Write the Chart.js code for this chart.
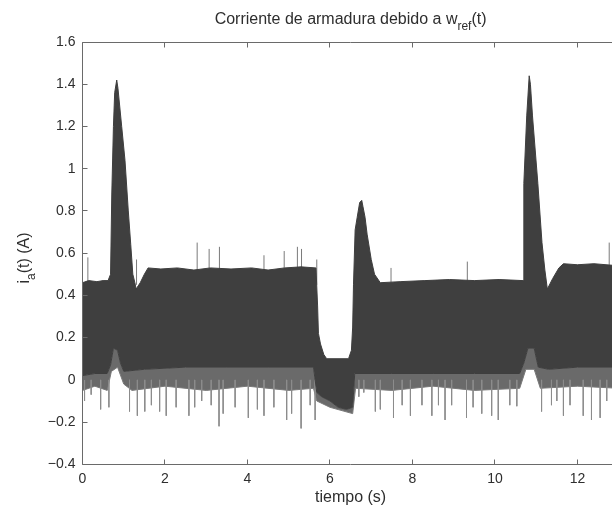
<!DOCTYPE html>
<html><head><meta charset="utf-8">
<script src="https://cdn.jsdelivr.net/npm/chart.js@4.4.1/dist/chart.umd.min.js"></script>
<style>
html,body{margin:0;padding:0;background:#fff;overflow:hidden;width:612px;height:511px}
#wrap{width:640px;height:511px;position:relative}
</style>
</head><body>
<div id="wrap"><canvas id="c" width="640" height="511"></canvas></div>
<script>
// ---- text ----
const titleMain = 'Corriente de armadura debido a w';
const titleSub = 'ref';
const titleTail = '(t)';
const yLabelMain = 'i';
const yLabelSub = 'a';
const yLabelTail = '(t) (A)';
const xLabel = 'tiempo (s)';

// ---- ticks ----
const xTicks = [0, 2, 4, 6, 8, 10, 12];
const xTickLabels = ['0', '2', '4', '6', '8', '10', '12'];
const yTicks = [-0.4, -0.2, 0, 0.2, 0.4, 0.6, 0.8, 1, 1.2, 1.4, 1.6];
const yTickLabels = ['\u22120.4', '\u22120.2', '0', '0.2', '0.4', '0.6', '0.8', '1', '1.2', '1.4', '1.6'];

// ---- dense band: upper envelope (t, A) ----
const upperT = [0.00, 0.15, 0.35, 0.50, 0.62, 0.68, 0.71, 0.75, 0.78, 0.83, 0.86, 0.95, 1.03, 1.11, 1.17, 1.22, 1.27, 1.30,
  1.40, 1.50, 1.59, 1.90, 2.30, 2.70, 3.10, 3.60, 4.10, 4.50, 4.90, 5.30, 5.66, 5.70, 5.72, 5.77, 5.85, 5.92, 6.45, 6.52, 6.55,
  6.57, 6.61, 6.66, 6.72, 6.77, 6.80, 6.85, 6.90, 7.00, 7.08, 7.22, 7.70, 8.30, 8.90, 9.50, 10.10, 10.68, 10.70, 10.77, 10.83,
  10.86, 10.91, 11.04, 11.14, 11.21, 11.27, 11.40, 11.55, 11.66, 12.00, 12.40, 13.00];
const upperA = [0.46, 0.47, 0.465, 0.47, 0.47, 0.50, 0.88, 1.20, 1.36, 1.42, 1.38, 1.20, 1.04, 0.80, 0.64, 0.50, 0.46, 0.43,
  0.46, 0.50, 0.53, 0.525, 0.53, 0.52, 0.53, 0.525, 0.53, 0.52, 0.53, 0.535, 0.53, 0.35, 0.22, 0.17, 0.12, 0.10, 0.10, 0.14, 0.25,
  0.45, 0.71, 0.77, 0.84, 0.85, 0.82, 0.77, 0.69, 0.57, 0.50, 0.46, 0.465, 0.47, 0.475, 0.47, 0.475, 0.47, 0.93, 1.25, 1.44,
  1.40, 1.25, 0.93, 0.65, 0.52, 0.43, 0.48, 0.53, 0.55, 0.545, 0.55, 0.54];

// ---- dense band: lower envelope ----
const lowerT = [0.00, 0.30, 0.60, 0.68, 0.75, 0.85, 0.92, 1.00, 1.50, 2.50, 3.50, 4.50, 5.60, 5.68, 5.80, 6.00, 6.20, 6.40, 6.55, 6.60,
  7.50, 8.50, 9.50, 10.60, 10.70, 10.80, 10.95, 11.05, 11.30, 12.00, 13.00];
const lowerA = [0.02, 0.03, 0.03, 0.07, 0.15, 0.14, 0.08, 0.04, 0.05, 0.06, 0.06, 0.06, 0.06, -0.06, -0.08, -0.10, -0.13, -0.14, -0.13, 0.03,
  0.03, 0.03, 0.03, 0.03, 0.08, 0.15, 0.15, 0.06, 0.05, 0.06, 0.06];

// ---- lighter fringe under the band ----
const fringeT = [0.00, 0.30, 0.60, 0.70, 0.85, 1.00, 1.20, 2.00, 3.00, 4.00, 5.00, 5.60, 5.68, 6.00, 6.55, 6.62, 7.50, 8.50, 9.50,
  10.60, 10.75, 10.95, 11.10, 12.00, 13.00];
const fringeA = [-0.05, -0.03, -0.05, 0.04, 0.06, -0.02, -0.05, -0.03, -0.05, -0.03, -0.05, -0.04, -0.10, -0.13, -0.16, -0.04, -0.05, -0.03, -0.05,
  -0.04, 0.05, 0.05, -0.04, -0.03, -0.04];

// ---- isolated downward spikes ----
const spikeDownT = [0.05, 0.21, 0.44, 0.64, 1.14, 1.33, 1.51, 1.67, 1.87, 2.03, 2.27, 2.58, 2.72, 2.89, 3.12, 3.31, 3.41, 3.70, 4.02,
  4.24, 4.40, 4.64, 4.95, 5.07, 5.30, 5.52, 5.64, 6.70, 6.82, 7.10, 7.22, 7.54, 7.75, 7.95, 8.23, 8.47, 8.63, 8.79, 8.95, 9.31,
  9.47, 9.68, 9.92, 10.08, 10.36, 10.53, 11.13, 11.37, 11.50, 11.66, 11.82, 12.14, 12.34, 12.55, 12.71];
const spikeDownA = [-0.10, -0.07, -0.14, -0.13, -0.15, -0.17, -0.15, -0.12, -0.15, -0.17, -0.13, -0.17, -0.13, -0.10, -0.12, -0.22, -0.16, -0.13, -0.18,
  -0.14, -0.17, -0.13, -0.19, -0.16, -0.23, -0.12, -0.19, -0.08, -0.06, -0.15, -0.14, -0.18, -0.12, -0.17, -0.12, -0.17, -0.12, -0.19, -0.12, -0.18,
  -0.13, -0.16, -0.17, -0.19, -0.12, -0.125, -0.15, -0.12, -0.10, -0.17, -0.12, -0.17, -0.19, -0.18, -0.10];

// ---- isolated upward spikes ----
const spikeUpT = [0.13, 1.31, 2.78, 3.07, 3.32, 4.40, 4.89, 5.21, 5.31, 5.68, 7.48, 9.33, 12.77];
const spikeUpA = [0.58, 0.57, 0.65, 0.62, 0.63, 0.59, 0.61, 0.63, 0.62, 0.57, 0.53, 0.56, 0.65];

const pts = (ts, vs) => ts.map((t, i) => ({x: t, y: vs[i]}));
const spikes = (ts, vs, base) => {
  const out = [];
  ts.forEach((t, i) => { out.push({x: t, y: base}, {x: t, y: vs[i]}, {x: t, y: null}); });
  return out;
};

const FONT = '"Liberation Sans", Arial, Helvetica, sans-serif';
const TXT = '#2e2e2e';
const BAND = '#3f3f3f';

const decor = {
  id: 'decor',
  afterDraw(chart) {
    const ctx = chart.ctx, a = chart.chartArea;
    const xs = chart.scales.x, ys = chart.scales.y;
    const L = Math.floor(a.left) + 0.5, R = Math.floor(a.right) + 0.5;
    const T = Math.floor(a.top) + 0.5, B = Math.floor(a.bottom) + 0.5;
    ctx.save();
    ctx.strokeStyle = '#6a6a6a';
    ctx.lineWidth = 1;
    ctx.beginPath();
    ctx.rect(L, T, R - L, B - T);
    const tl = 5;
    xTicks.forEach(v => {
      const p = Math.floor(xs.getPixelForValue(v)) + 0.5;
      ctx.moveTo(p, B); ctx.lineTo(p, B - tl);
      ctx.moveTo(p, T); ctx.lineTo(p, T + tl);
    });
    yTicks.forEach(v => {
      const p = Math.floor(ys.getPixelForValue(v)) + 0.5;
      ctx.moveTo(L, p); ctx.lineTo(L + tl, p);
      ctx.moveTo(R, p); ctx.lineTo(R - tl, p);
    });
    ctx.stroke();

    // title with subscript
    ctx.fillStyle = TXT;
    ctx.textBaseline = 'alphabetic';
    ctx.textAlign = 'left';
    const fMain = '16px ' + FONT, fSub = '12px ' + FONT;
    ctx.font = fMain; const w1 = ctx.measureText(titleMain).width; const w3 = ctx.measureText(titleTail).width;
    ctx.font = fSub; const w2 = ctx.measureText(titleSub).width;
    const cx = (a.left + a.right) / 2;
    let x0 = cx - (w1 + w2 + w3) / 2;
    const by = 24;
    ctx.font = fMain; ctx.fillText(titleMain, x0, by);
    ctx.font = fSub; ctx.fillText(titleSub, x0 + w1, by + 6);
    ctx.font = fMain; ctx.fillText(titleTail, x0 + w1 + w2, by);

    // y label rotated, with subscript
    ctx.save();
    ctx.translate(29, 258);
    ctx.rotate(-Math.PI / 2);
    ctx.font = fMain; const u1 = ctx.measureText(yLabelMain).width; const u3 = ctx.measureText(yLabelTail).width;
    ctx.font = fSub; const u2 = ctx.measureText(yLabelSub).width;
    let y0 = -(u1 + u2 + u3) / 2;
    ctx.font = fMain; ctx.fillText(yLabelMain, y0, 0);
    ctx.font = fSub; ctx.fillText(yLabelSub, y0 + u1, 6);
    ctx.font = fMain; ctx.fillText(yLabelTail, y0 + u1 + u2, 0);
    ctx.restore();
    ctx.restore();
  }
};

new Chart(document.getElementById('c'), {
  type: 'line',
  data: {
    datasets: [
      {label: 'upper', data: pts(upperT, upperA), borderColor: BAND, backgroundColor: BAND, borderWidth: 1, fill: '+1', pointRadius: 0, tension: 0},
      {label: 'lower', data: pts(lowerT, lowerA), borderColor: BAND, borderWidth: 1, fill: false, pointRadius: 0, tension: 0},
      {label: 'spikesDown', data: spikes(spikeDownT, spikeDownA, 0.0), borderColor: '#8c8c8c', borderWidth: 1, fill: false, pointRadius: 0, spanGaps: false},
      {label: 'spikesUp', data: spikes(spikeUpT, spikeUpA, 0.45), borderColor: '#7a7a7a', borderWidth: 1, fill: false, pointRadius: 0, spanGaps: false},
      {label: 'fringe', data: pts(fringeT, fringeA), borderColor: '#7a7a7a', backgroundColor: '#6a6a6a', borderWidth: 1, fill: 1, pointRadius: 0, tension: 0}
    ]
  },
  options: {
    responsive: false,
    animation: false,
    devicePixelRatio: 1,
    layout: {padding: {left: 0, top: 42, right: 21.3, bottom: 0}},
    plugins: {legend: {display: false}, title: {display: false}, tooltip: {enabled: false}},
    scales: {
      x: {
        type: 'linear', min: 0, max: 13,
        grid: {display: false, drawTicks: false},
        border: {display: false},
        afterFit: s => { s.height = 46.7; },
        afterBuildTicks: s => { s.ticks = xTicks.map(v => ({value: v})); },
        ticks: {callback: (v) => xTickLabels[xTicks.indexOf(v)], color: TXT, font: {family: FONT, size: 14}, padding: 6, maxRotation: 0, autoSkip: false},
        title: {display: true, text: xLabel, color: TXT, font: {family: FONT, size: 16}, padding: {top: 0, bottom: 4}}
      },
      y: {
        type: 'linear', min: -0.4, max: 1.6,
        grid: {display: false, drawTicks: false},
        border: {display: false},
        afterFit: s => { s.width = 82.5; },
        afterBuildTicks: s => { s.ticks = yTicks.map(v => ({value: v})); },
        ticks: {callback: (v) => yTickLabels[yTicks.findIndex(t => Math.abs(t - v) < 1e-9)], color: TXT, font: {family: FONT, size: 14}, padding: 7, autoSkip: false}
      }
    }
  },
  plugins: [decor]
});
</script>
</body></html>
